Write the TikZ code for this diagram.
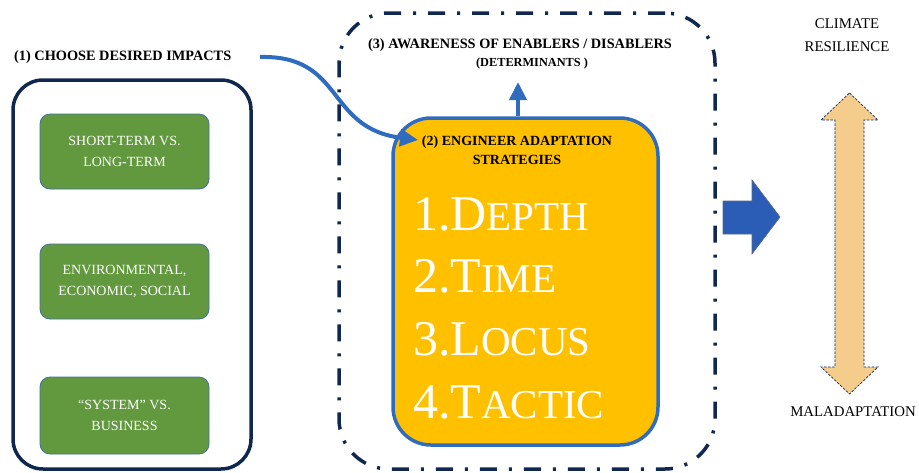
\documentclass[tikz,border=0pt]{standalone}
\usepackage{fontspec}
\setmainfont{Liberation Serif}
\usetikzlibrary{arrows.meta,calc}
\definecolor{navy}{HTML}{10284F}
\definecolor{grn}{HTML}{62993E}
\definecolor{grnb}{HTML}{41719C}
\definecolor{orng}{HTML}{FFC000}
\definecolor{blu}{HTML}{2F6CC0}
\definecolor{blk}{HTML}{2C5DB6}
\definecolor{tanc}{HTML}{F4CC8C}
\newcommand\scx[1]{{\fontsize{41}{41}\selectfont #1}}
\begin{document}
\begin{tikzpicture}[x=1pt,y=-1pt,
 greenbox/.style={draw=grnb,line width=0.8pt,fill=grn,rounded corners=10pt,minimum width=169pt,minimum height=75pt,inner sep=0pt,text=white,align=center,font=\fontsize{14}{21}\selectfont},
 ttl/.style={font=\bfseries\fontsize{14.3}{18.5}\selectfont,align=center,inner sep=0pt},
 lbl/.style={font=\fontsize{14.8}{23}\selectfont,align=center,inner sep=0pt},
 big/.style={text=white,anchor=base west,inner sep=0pt,font=\fontsize{50}{50}\selectfont},
 conn/.style={draw=blu,line width=4pt,-{Triangle[length=18pt,width=17pt]}}]
\useasboundingbox (0,0) rectangle (919,472);

% left frame and boxes
\node[draw=navy,line width=3.5pt,rounded corners=30pt,minimum width=238pt,minimum height=389pt,inner sep=0pt] (frame1) at (132,274.5) {};
\node[greenbox] (g1) at (124.5,151.5) {SHORT-TERM VS.\\LONG-TERM};
\node[greenbox] (g2) at (124.5,281.5) {ENVIRONMENTAL,\\ECONOMIC, SOCIAL};
\node[greenbox,minimum height=77pt] (g3) at (124.5,415.5) {“SYSTEM” VS.\\BUSINESS};
\node[ttl,anchor=west] (t1) at (14,57) {(1) CHOOSE DESIRED IMPACTS};

% dash-dot frame
\node[draw=navy,line width=3.5pt,rounded corners=50pt,minimum width=376pt,minimum height=456pt,inner sep=0pt,
  dash pattern=on 17pt off 12pt on 3pt off 12pt] (frame3) at (527,241) {};
\node[ttl] (t3) at (520,45) {(3) AWARENESS OF ENABLERS / DISABLERS};
\node[ttl,font=\bfseries\fontsize{12.3}{14}\selectfont] (t3b) at (532,64) {(DETERMINANTS )};

% orange box
\node[draw=blu,line width=3.5pt,fill=orng,rounded corners=38pt,minimum width=265pt,minimum height=327pt,inner sep=0pt] (orange) at (525.5,281.5) {};
\node[ttl,font=\bfseries\fontsize{14}{19}\selectfont] (t2) at (517,150) {(2) ENGINEER ADAPTATION\\STRATEGIES};
\node[big] (d1) at (413,230) {1.D\scx{EPTH}};
\node[big] (d2) at (413,292.5) {2.T\scx{IME}};
\node[big] (d3) at (413,355) {3.L\scx{OCUS}};
\node[big] (d4) at (413,418) {4.T\scx{ACTIC}};

% connectors
\coordinate (uptip) at (518,82);
\draw[conn] (orange.north -| uptip) -- (uptip);
\coordinate (cstart) at (260,57);
\coordinate (ctip) at (418,140);
\draw[conn] (cstart) .. controls (345,55) and (325,128) .. (ctip);

% block arrow
\draw[fill=blk,draw=navy!70,line width=0.6pt] (723,201) -- (752,201) -- (752,180) -- (780,217) -- (752,254) -- (752,234) -- (723,234) -- cycle;

% double arrow
\draw[fill=tanc,draw=navy,line width=0.7pt,dash pattern=on 2.5pt off 1.5pt]
  (849.5,93) -- (878,120) -- (864,120) -- (864,367) -- (878,367) -- (849.5,394) -- (821,367) -- (835,367) -- (835,120) -- (821,120) -- cycle;
\node[lbl] (clim) at (847,35.5) {CLIMATE\\RESILIENCE};
\node[lbl] (mal) at (853,412) {MALADAPTATION};
\end{tikzpicture}
\end{document}
